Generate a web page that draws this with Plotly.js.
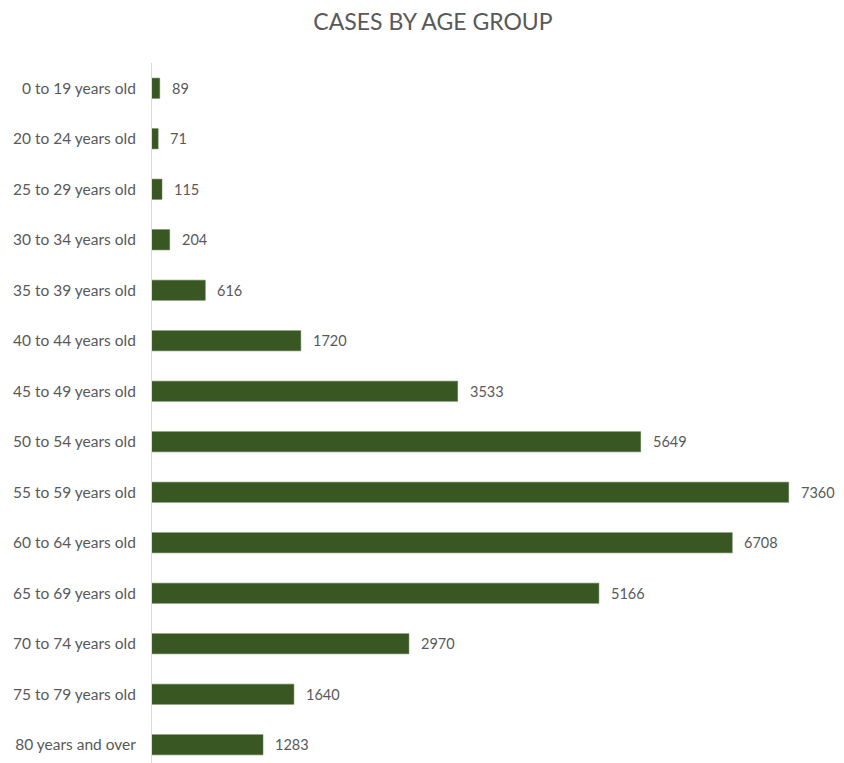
<!DOCTYPE html>
<html>
<head>
<meta charset="utf-8">
<script src="https://cdn.plot.ly/plotly-3.0.1.min.js"></script>
<style>
html,body{margin:0;padding:0;overflow:hidden;background:#fff;}
#chart{width:844px;height:770px;}
</style>
</head>
<body>
<div id="chart"></div>
<script>
const categories = [
  "0 to 19 years old","20 to 24 years old","25 to 29 years old","30 to 34 years old",
  "35 to 39 years old","40 to 44 years old","45 to 49 years old","50 to 54 years old",
  "55 to 59 years old","60 to 64 years old","65 to 69 years old","70 to 74 years old",
  "75 to 79 years old","80 years and over"
];
const cases = [89, 71, 115, 204, 616, 1720, 3533, 5649, 7360, 6708, 5166, 2970, 1640, 1283];
const chartTitle = "CASES BY AGE GROUP";

const FONT = "Lato, 'Open Sans', sans-serif";
const GREY = "#595959";

const trace = {
  type: "bar",
  orientation: "h",
  y: categories,
  x: cases,
  marker: {color: "#385723", line: {color: "#4a6b35", width: 0.5}},
  hoverinfo: "x+y"
};

const annotations = categories.map((c, i) => ({
  x: cases[i], y: c, xref: "x", yref: "y",
  text: String(cases[i]), showarrow: false,
  xanchor: "left", xshift: 10,
  font: {family: FONT, size: 14.5, color: GREY}
}));

const layout = {
  width: 844, height: 770,
  margin: {l: 152, r: 0, t: 63, b: 0},
  paper_bgcolor: "#fff", plot_bgcolor: "#fff",
  title: {
    text: chartTitle,
    font: {family: FONT, size: 23, color: GREY},
    x: 0.513, xanchor: "center",
    y: 1 - 22/770, yref: "container", yanchor: "middle"
  },
  bargap: 0.6,
  showlegend: false,
  xaxis: {range: [0, 8000], visible: false, fixedrange: true},
  yaxis: {
    autorange: "reversed",
    showline: true, linecolor: "#d9d9d9", linewidth: 1,
    showgrid: false, zeroline: false, ticks: "",
    ticklabelstandoff: 12,
    tickfont: {family: FONT, size: 15.5, color: GREY}
  },
  annotations: annotations
};

Plotly.newPlot("chart", [trace], layout, {displayModeBar: false, staticPlot: true});
</script>
</body>
</html>
